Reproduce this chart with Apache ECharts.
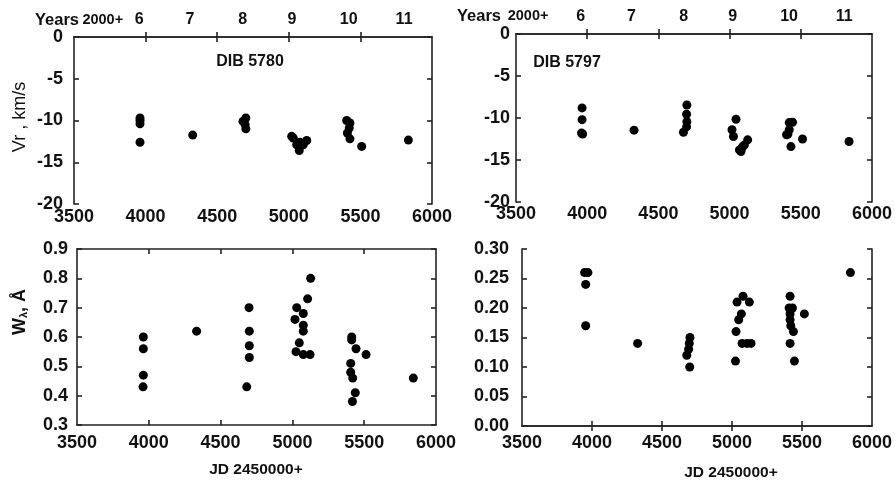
<!DOCTYPE html>
<html>
<head>
<meta charset="utf-8">
<script src="https://cdn.jsdelivr.net/npm/echarts@6/dist/echarts.min.js"></script>
<style>
  html, body { margin: 0; padding: 0; background: #fff; }
  #chart { width: 895px; height: 483px; }
</style>
</head>
<body>
<div id="chart"></div>
<script>
const FONT = 'Liberation Sans, Arial, sans-serif';

// top axis: season labels (years 2000+), placed at JD 2450000+
const yearJD = [3955, 4310, 4678, 5022, 5418, 5805];
const yearLabels = ['6', '7', '8', '9', '10', '11'];

// DIB 5780 radial velocity
const vr5780JD = [3961, 3961, 3961, 3961, 4329, 4700, 4680, 4695, 4700, 5020, 5031, 5055, 5078, 5073, 5101, 5125, 5404, 5427, 5422, 5409, 5427, 5509, 5835];
const vr5780 = [-9.7, -10.0, -10.4, -12.6, -11.75, -9.7, -10.1, -10.5, -11.0, -11.9, -12.1, -12.9, -12.6, -13.6, -12.9, -12.4, -10.0, -10.3, -10.9, -11.5, -12.2, -13.1, -12.35];

// DIB 5797 radial velocity
const vr5797JD = [3964, 3964, 3960, 3968, 4329, 4700, 4698, 4700, 4698, 4676, 5045, 5017, 5027, 5069, 5080, 5092, 5104, 5127, 5085, 5419, 5442, 5419, 5400, 5410, 5431, 5512, 5839];
const vr5797 = [-8.8, -10.2, -11.8, -11.9, -11.45, -8.45, -9.55, -10.45, -11.05, -11.7, -10.15, -11.4, -12.2, -13.8, -14.0, -13.4, -13.2, -12.6, -13.6, -10.55, -10.5, -11.4, -12.0, -11.9, -13.4, -12.5, -12.8];

// DIB 5780 equivalent width
const w5780JD = [3962, 3962, 3962, 3960, 4333, 4698, 4700, 4700, 4700, 4682, 5030, 5018, 5076, 5106, 5127, 5076, 5076, 5048, 5025, 5076, 5123, 5413, 5413, 5443, 5406, 5406, 5420, 5438, 5418, 5513, 5842];
const w5780 = [0.60, 0.56, 0.47, 0.43, 0.62, 0.70, 0.62, 0.57, 0.53, 0.43, 0.70, 0.66, 0.68, 0.73, 0.80, 0.64, 0.62, 0.58, 0.55, 0.54, 0.54, 0.60, 0.59, 0.56, 0.51, 0.48, 0.46, 0.41, 0.38, 0.54, 0.46];

// DIB 5797 equivalent width
const w5797JD = [3947, 3971, 3955, 3955, 4326, 4700, 4695, 4690, 4677, 4698, 5025, 5029, 5048, 5067, 5036, 5079, 5124, 5072, 5107, 5136, 5415, 5432, 5408, 5415, 5415, 5420, 5439, 5415, 5446, 5517, 5846];
const w5797 = [0.26, 0.26, 0.24, 0.17, 0.14, 0.15, 0.14, 0.13, 0.12, 0.10, 0.11, 0.16, 0.18, 0.19, 0.21, 0.22, 0.21, 0.14, 0.14, 0.14, 0.22, 0.20, 0.20, 0.19, 0.18, 0.17, 0.16, 0.14, 0.11, 0.19, 0.26];

const xTicks = [4000, 4500, 5000, 5500];

const zip = (xs, ys) => xs.map((x, i) => [x, ys[i]]);

const panels = [
  { grid: { left: 74, top: 37, width: 358, height: 167 }, ymin: -20, ymax: 0, step: 5, dec: 0, ylMargin: 11, xlMargin: 4, years: true, data: zip(vr5780JD, vr5780) },
  { grid: { left: 516, top: 34, width: 357, height: 168 }, ymin: -20, ymax: 0, step: 5, dec: 0, ylMargin: 6, xlMargin: 3, years: true, data: zip(vr5797JD, vr5797) },
  { grid: { left: 77, top: 249, width: 359, height: 176 }, ymin: 0.3, ymax: 0.9, step: 0.1, dec: 1, ylMargin: 9, xlMargin: 9, years: false, data: zip(w5780JD, w5780) },
  { grid: { left: 522, top: 249, width: 352, height: 177 }, ymin: 0, ymax: 0.3, step: 0.05, dec: 2, ylMargin: 13, xlMargin: 8, years: false, data: zip(w5797JD, w5797) }
];

const lineStyle = { color: '#222', width: 1.6 };
const labelStyle = { color: '#111', fontFamily: FONT, fontWeight: 'bold', fontSize: 18 };

const grids = [], xAxes = [], yAxes = [], series = [];

panels.forEach((p, i) => {
  grids.push(Object.assign({ containLabel: false }, p.grid));

  xAxes.push({
    type: 'value', gridIndex: i, position: 'bottom', min: 3500, max: 6000, interval: 500,
    axisLine: { show: true, lineStyle },
    axisTick: { show: true, inside: true, length: 5, lineStyle, customValues: xTicks },
    axisLabel: Object.assign({ margin: p.xlMargin, formatter: (v) => String(v) }, labelStyle),
    splitLine: { show: false }
  });
  xAxes.push({
    type: 'value', gridIndex: i, position: 'top', min: 3500, max: 6000,
    axisLine: { show: true, lineStyle },
    axisTick: { show: true, inside: true, length: 5, lineStyle, customValues: xTicks },
    axisLabel: p.years ? {
      show: true, margin: 9, customValues: yearJD,
      color: '#111', fontFamily: FONT, fontWeight: 'bold', fontSize: 16,
      formatter: (v) => yearLabels[yearJD.indexOf(v)]
    } : { show: false },
    splitLine: { show: false }
  });

  const fmt = (v) => v.toFixed(p.dec);
  yAxes.push({
    type: 'value', gridIndex: i, position: 'left', min: p.ymin, max: p.ymax, interval: p.step,
    axisLine: { show: true, lineStyle },
    axisTick: { show: true, inside: true, length: 5, lineStyle },
    axisLabel: Object.assign({ margin: p.ylMargin, formatter: fmt }, labelStyle),
    splitLine: { show: false }
  });
  yAxes.push({
    type: 'value', gridIndex: i, position: 'right', min: p.ymin, max: p.ymax, interval: p.step,
    axisLine: { show: true, lineStyle },
    axisTick: { show: true, inside: true, length: 5, lineStyle },
    axisLabel: { show: false },
    splitLine: { show: false }
  });

  series.push({
    type: 'scatter', xAxisIndex: i * 2, yAxisIndex: i * 2,
    data: p.data, symbol: 'circle', symbolSize: 9,
    itemStyle: { color: '#000', opacity: 1 }
  });
});

const txt = (x, y, text, size, extra) => ({
  type: 'text', x, y,
  style: Object.assign({ text, fill: '#111', font: `bold ${size}px ${FONT}`, align: 'center', verticalAlign: 'middle' }, extra || {})
});

const yearsTitle = (x, y, gap) => ({
  type: 'text', x, y,
  style: {
    text: '{a|Years}' + gap + '{b|2000+}',
    align: 'left', verticalAlign: 'middle',
    rich: {
      a: { fontFamily: FONT, fontWeight: 'bold', fontSize: 16.5, fill: '#111' },
      b: { fontFamily: FONT, fontWeight: 'bold', fontSize: 14.5, fill: '#111' }
    }
  }
});

const graphic = [
  yearsTitle(35, 20, ' '),
  yearsTitle(457, 16, '  '),
  txt(250, 62, 'DIB 5780', 16),
  txt(567, 63, 'DIB 5797', 16),
  {
    type: 'text', x: 20, y: 117, rotation: Math.PI / 2,
    style: { text: 'Vr , km/s', fill: '#111', font: `18px ${FONT}`, align: 'center', verticalAlign: 'middle' }
  },
  {
    type: 'text', x: 20, y: 312, rotation: Math.PI / 2,
    style: {
      text: '{a|W}{b|λ}{a|, Å}', align: 'center', verticalAlign: 'middle',
      rich: {
        a: { fontFamily: FONT, fontWeight: 'bold', fontSize: 18, fill: '#111' },
        b: { fontFamily: FONT, fontWeight: 'bold', fontSize: 11, fill: '#111', padding: [8, 0, 0, 0] }
      }
    }
  },
  txt(256, 470, 'JD 2450000+', 15.5),
  txt(731, 473, 'JD 2450000+', 15.5)
];

const chart = echarts.init(document.getElementById('chart'), null, { renderer: 'canvas' });
chart.setOption({
  animation: false,
  backgroundColor: '#fff',
  grid: grids,
  xAxis: xAxes,
  yAxis: yAxes,
  series,
  graphic
});
</script>
</body>
</html>
